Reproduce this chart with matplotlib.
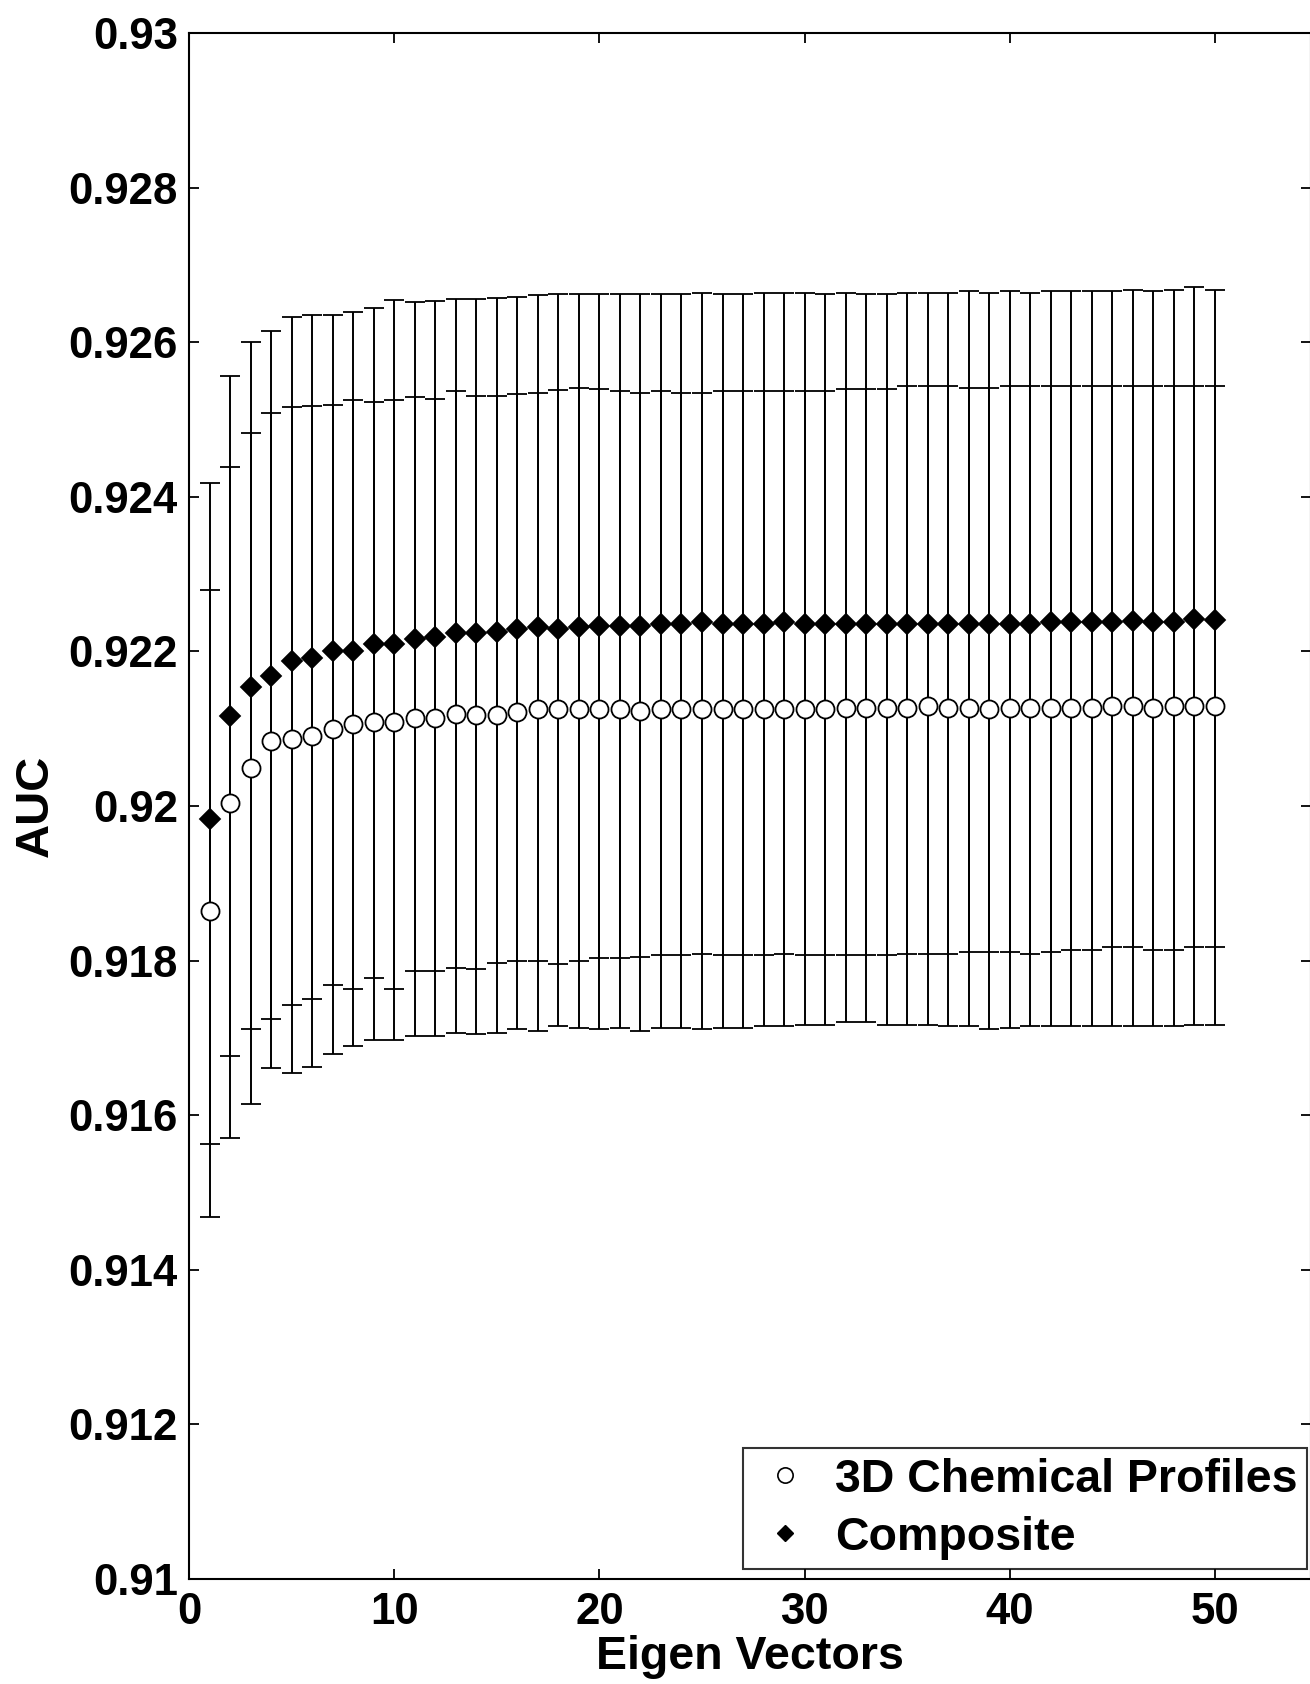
import numpy as np
import matplotlib
matplotlib.use('Agg')
import matplotlib.pyplot as plt
import matplotlib.ticker as mticker
from matplotlib.lines import Line2D

plt.rcParams['font.family'] = ['Liberation Sans', 'DejaVu Sans']
plt.rcParams['font.weight'] = 'bold'

# ── Data
eigen_vectors = np.arange(1, 51)

chem3d_auc = [
    0.91864, 0.92004, 0.92049, 0.92084, 0.92087, 0.92091, 0.92100, 0.92106, 0.92109, 0.92109,
    0.92114, 0.92114, 0.92119, 0.92118, 0.92118, 0.92122, 0.92125, 0.92125, 0.92125, 0.92125,
    0.92125, 0.92123, 0.92125, 0.92125, 0.92125, 0.92125, 0.92125, 0.92126, 0.92126, 0.92126,
    0.92126, 0.92127, 0.92127, 0.92127, 0.92127, 0.92129, 0.92127, 0.92127, 0.92125, 0.92127,
    0.92127, 0.92127, 0.92127, 0.92127, 0.92129, 0.92129, 0.92127, 0.92129, 0.92129, 0.92129,
]
chem3d_upper = [
    0.92279, 0.92438, 0.92483, 0.92508, 0.92516, 0.92517, 0.92519, 0.92525, 0.92522, 0.92525,
    0.92529, 0.92527, 0.92537, 0.92531, 0.92531, 0.92533, 0.92534, 0.92538, 0.92541, 0.92539,
    0.92537, 0.92534, 0.92537, 0.92534, 0.92534, 0.92537, 0.92537, 0.92537, 0.92537, 0.92537,
    0.92537, 0.92539, 0.92539, 0.92539, 0.92543, 0.92543, 0.92543, 0.92541, 0.92541, 0.92543,
    0.92543, 0.92543, 0.92543, 0.92543, 0.92543, 0.92543, 0.92543, 0.92543, 0.92543, 0.92543,
]
chem3d_lower = [
    0.91563, 0.91676, 0.91711, 0.91724, 0.91742, 0.91750, 0.91768, 0.91763, 0.91777, 0.91763,
    0.91786, 0.91786, 0.91790, 0.91789, 0.91797, 0.91800, 0.91800, 0.91796, 0.91800, 0.91803,
    0.91803, 0.91805, 0.91807, 0.91807, 0.91809, 0.91807, 0.91807, 0.91807, 0.91809, 0.91807,
    0.91807, 0.91807, 0.91807, 0.91807, 0.91809, 0.91809, 0.91809, 0.91811, 0.91811, 0.91811,
    0.91809, 0.91811, 0.91814, 0.91814, 0.91817, 0.91817, 0.91814, 0.91814, 0.91817, 0.91817,
]

composite_auc = [
    0.91983, 0.92117, 0.92154, 0.92168, 0.92188, 0.92192, 0.92201, 0.92201, 0.92210, 0.92210,
    0.92216, 0.92219, 0.92224, 0.92224, 0.92225, 0.92229, 0.92231, 0.92229, 0.92231, 0.92233,
    0.92233, 0.92233, 0.92235, 0.92235, 0.92238, 0.92235, 0.92235, 0.92235, 0.92238, 0.92235,
    0.92235, 0.92236, 0.92236, 0.92235, 0.92236, 0.92235, 0.92235, 0.92236, 0.92235, 0.92236,
    0.92236, 0.92238, 0.92238, 0.92238, 0.92238, 0.92239, 0.92238, 0.92238, 0.92242, 0.92241,
]
composite_upper = [
    0.92418, 0.92556, 0.92600, 0.92614, 0.92632, 0.92635, 0.92635, 0.92639, 0.92644, 0.92654,
    0.92652, 0.92653, 0.92656, 0.92656, 0.92657, 0.92658, 0.92661, 0.92662, 0.92662, 0.92662,
    0.92662, 0.92662, 0.92662, 0.92662, 0.92664, 0.92662, 0.92662, 0.92664, 0.92664, 0.92664,
    0.92662, 0.92664, 0.92662, 0.92662, 0.92664, 0.92664, 0.92664, 0.92666, 0.92664, 0.92666,
    0.92664, 0.92666, 0.92666, 0.92666, 0.92666, 0.92668, 0.92666, 0.92668, 0.92671, 0.92668,
]
composite_lower = [
    0.91468, 0.91571, 0.91615, 0.91661, 0.91655, 0.91663, 0.91679, 0.91690, 0.91697, 0.91697,
    0.91702, 0.91702, 0.91706, 0.91705, 0.91706, 0.91712, 0.91709, 0.91715, 0.91713, 0.91711,
    0.91713, 0.91709, 0.91713, 0.91713, 0.91711, 0.91713, 0.91713, 0.91715, 0.91715, 0.91717,
    0.91717, 0.91720, 0.91720, 0.91717, 0.91717, 0.91717, 0.91715, 0.91715, 0.91711, 0.91713,
    0.91715, 0.91715, 0.91715, 0.91715, 0.91715, 0.91715, 0.91715, 0.91715, 0.91717, 0.91717,
]

labels = ['3D Chemical Profiles', 'Composite']
x_ticks = [0, 10, 20, 30, 40, 50]


def asym_err(mean, lower, upper):
    mean, lower, upper = map(np.asarray, (mean, lower, upper))
    return np.vstack([mean - lower, upper - mean])


W, H = 1310, 1684
fig = plt.figure(figsize=(W / 100, H / 100), dpi=100)
ax = fig.add_axes([189 / W, (H - 1579) / H, 1122 / W, (1579 - 33) / H])

# capsize is the half-width of the cap in points
err_kw = dict(ecolor='black', elinewidth=1.4, capsize=7.5, capthick=1.4, zorder=3)

ax.errorbar(eigen_vectors, chem3d_auc,
            yerr=asym_err(chem3d_auc, chem3d_lower, chem3d_upper),
            fmt='o', ms=13, mfc='white', mec='black', mew=1.3, **err_kw)
ax.errorbar(eigen_vectors, composite_auc,
            yerr=asym_err(composite_auc, composite_lower, composite_upper),
            fmt='D', ms=10.5, mfc='black', mec='black', mew=1.3, **err_kw)

ax.set_xlim(0, 1122 / 20.52)
ax.set_ylim(0.91, 0.93)
ax.set_xticks(x_ticks)
ax.set_yticks(np.arange(0.91, 0.93001, 0.002))
ax.yaxis.set_major_formatter(mticker.FormatStrFormatter('%g'))

ax.tick_params(direction='in', length=7, width=1.3, top=True, right=True,
               labelsize=31.5)
ax.tick_params(axis='x', pad=9)
ax.tick_params(axis='y', pad=8)
for sp in ax.spines.values():
    sp.set_linewidth(1.5)

ax.set_xlabel('Eigen Vectors', fontsize=33.5, fontweight='bold', labelpad=2)
ax.set_ylabel('AUC', fontsize=34, fontweight='bold', labelpad=8)

handles = [
    Line2D([], [], ls='none', marker='o', ms=11, mfc='white', mec='black', mew=1.2),
    Line2D([], [], ls='none', marker='D', ms=8, mfc='black', mec='black'),
]
leg = ax.legend(handles, labels, loc='lower right', bbox_to_anchor=(0.9964, 0.0065),
                borderaxespad=0, fontsize=33.5, frameon=True, fancybox=False,
                handlelength=1.4, handletextpad=0.37, borderpad=0.2,
                labelspacing=0.3)
leg.get_frame().set_edgecolor('black')
leg.get_frame().set_linewidth(1.5)
for t in leg.get_texts():
    t.set_fontweight('bold')

fig.savefig('out.png', dpi=100)
